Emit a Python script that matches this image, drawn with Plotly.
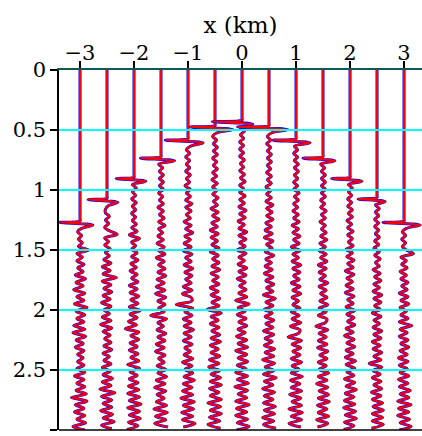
import plotly.graph_objects as go

# trace positions (km) and first-arrival times (s)
offsets = [-3.0, -2.5, -2.0, -1.5, -1.0, -0.5, 0.0, 0.5, 1.0, 1.5, 2.0, 2.5, 3.0]
arrival = [1.27, 1.08, 0.905, 0.735, 0.585, 0.475, 0.43, 0.475, 0.585, 0.735, 0.905, 1.075, 1.27]
# arrival wavelet lobes (km)
lobe_left = [-0.38, -0.35, -0.33, -0.38, -0.42, -0.46, -0.55, -0.58, -0.43, -0.37, -0.34, -0.35, -0.39]
lobe_right = [0.24, 0.2, 0.22, 0.25, 0.28, 0.33, 0.2, 0.35, 0.26, 0.22, 0.22, 0.15, 0.3]

# wiggle peak amplitudes after the arrival, in units of amp_unit km, every dt s
amp_unit = 0.0145
dt = 0.03
w_m30 = [2,-3,2,-2,3,-2,11,-4,3,-4,5,-3,4,-6,7,-5,4,-8,6,-4,5,-7,9,-5,6,-4,5,-8,6,-9,7,-5,4,-6,5,-3,4,-3,5,-4,6,-7,5,-4,6,-5,8,-11,9,-6,5,-7,6,-4,7,-9,6]
w_m25 = [2,-2,-2,3,-2,2,-3,3,13,-3,2,-3,4,-2,3,-4,5,-6,4,-5,12,-6,5,-4,6,-5,4,-7,5,-4,3,-6,5,-8,6,-5,4,-3,5,-4,6,-5,3,-4,5,-6,4,-5,7,-6,5,-9,10,-7,6,-5,6,-8,7,-5,9,-7,6]
w_m20 = [-2,3,-2,2,-3,3,-2,2,-3,2,-2,3,-3,4,-6,7,-3,2,-3,4,-3,5,-4,3,-5,4,-3,5,-6,4,-5,6,-4,5,-6,8,-5,4,-7,3,-11,6,-4,6,-5,4,-6,5,-4,6,-8,7,-5,4,-6,5,-7,6,-8,7,-6,9,-8,7,-6,8,-7,5,-9]
w_m15 = [-3,2,-2,3,-2,3,-2,3,-3,2,-2,3,-4,3,-2,4,-3,5,-3,2,-4,3,-5,4,-3,5,-6,4,-3,5,-4,6,-5,4,-6,5,-7,6,-4,5,-3,4,-13,7,-4,3,-5,6,-4,5,-6,4,-7,5,-3,4,-5,6,-4,7,-6,5,-8,6,-5,4,-6,7,-9,8,-7,6,-8,9]
w_m10 = [3,-2,2,-3,2,-2,2,-3,3,-2,2,-4,3,-2,3,-3,5,-3,4,-2,3,-5,4,-3,6,-4,3,-5,4,-6,5,-3,4,-5,6,-4,5,-3,4,-6,5,-7,4,5,-15,6,-4,5,-6,4,-5,7,-5,4,-6,5,-4,3,-5,6,-7,5,-4,6,-5,8,-6,5,-7,6,-9,8,-6,7,-8,6,-7,9,-6]
w_m05 = [2,-3,2,-2,3,-2,3,-3,2,-2,3,-3,2,-4,3,-3,2,-3,4,-2,3,-5,4,-3,5,-4,3,-6,4,-5,3,-4,5,-6,4,-3,5,-4,6,-5,4,-3,5,-6,4,-5,6,-4,5,-10,8,-5,4,-6,5,-4,6,-5,7,-6,4,-5,6,-7,5,-8,6,-5,7,-6,8,-7,5,-6,8,-9,7,-6,8,-7,6,-9,7]
w_p00 = [-2,3,-2,2,-3,2,-3,2,-3,3,-2,2,-3,3,-2,4,-3,2,-3,4,-3,3,-4,5,-3,4,-5,3,-4,6,-4,5,-3,4,-6,5,-4,3,-5,6,-4,5,-6,4,-3,5,-4,6,-8,9,-5,4,-6,5,-4,6,-5,4,-7,6,-5,7,-8,6,-5,7,-6,5,-8,7,-6,8,-9,7,-5,6,-8,9,-7,6,-8,7,-6,9,-7]
w_p05 = [3,-2,2,-3,2,-2,3,-2,3,-2,2,-3,3,-2,3,-4,2,-3,3,-4,5,-3,4,-3,5,-4,3,-5,4,-6,5,-3,4,-5,6,-4,3,-5,4,-6,5,-4,6,-3,5,-7,8,-4,5,-6,4,-5,6,-4,5,-7,6,-5,4,-6,7,-5,6,-8,7,-5,6,-7,9,-6,5,-8,7,-6,5,-7,8,-6,7,-8,6,-7,9]
w_p10 = [-2,2,-3,2,-2,3,-2,3,-2,2,-3,2,-3,4,-2,3,-3,2,-4,3,-3,4,-5,3,-4,5,-3,4,-6,5,-4,3,-5,6,-4,5,-3,4,-6,5,-4,6,-5,3,-4,5,-6,4,-5,6,-7,5,3,-10,7,-5,6,-4,5,-6,7,-5,4,-6,8,-7,5,-6,7,-8,6,-5,7,-9,8,-6,7,-9,6]
w_p15 = [-3,2,-2,3,-2,3,-2,3,-2,3,-3,2,-3,4,-2,3,-4,3,-2,4,-3,5,-4,3,-5,4,-3,5,-6,4,-5,3,-4,6,-5,4,-3,5,-4,6,-5,4,-6,5,3,-9,6,-5,4,-6,5,-7,6,-4,5,-6,4,-5,7,-6,5,-8,6,-5,7,-6,8,-7,5,-6,7,-8,6,-7]
w_p20 = [-2,3,-2,2,-3,2,-3,3,-2,3,-4,2,-3,4,-3,3,-2,4,-5,3,-4,5,-3,4,-6,5,-4,3,-5,4,-6,5,-3,4,-5,6,-4,5,-3,6,-5,4,-7,5,-4,6,-5,4,-6,7,-5,6,-4,5,-7,6,-5,8,-6,5,-7,6,-8,7,-6,8,-7,5,-8]
w_p25 = [-2,3,-2,2,-3,2,-3,2,-2,3,-3,2,-4,3,-3,4,-2,3,-5,4,-3,5,-4,3,-5,6,-4,5,-3,4,-6,5,-4,3,-5,6,-4,5,-6,4,-5,6,-4,5,-10,6,-5,4,-6,5,-4,6,-7,5,-6,7,-5,8,-6,7,-6,8,-7]
w_p30 = [3,-2,2,-3,2,-2,3,12,-4,3,-3,4,-5,3,-4,5,-3,4,-6,5,-4,6,-5,3,-4,5,-6,10,-5,4,-6,5,-4,6,-5,4,-7,5,-6,4,-5,6,-7,5,-6,8,-5,6,-8,9,-7,6,-8,7,-5,9,-6]
wiggles = [w_m30, w_m25, w_m20, w_m15, w_m10, w_m05, w_p00, w_p05, w_p10, w_p15, w_p20, w_p25, w_p30]

grid_times = [0.5, 1.0, 1.5, 2.0, 2.5]
y_ticks = [0, 0.5, 1, 1.5, 2, 2.5, 3]
y_labels = ["0", "0.5", "1", "1.5", "2", "2.5", "3"]
x_ticks = [-3, -2, -1, 0, 1, 2, 3]

fig = go.Figure()
for off, ta, a1, a2, w in zip(offsets, arrival, lobe_left, lobe_right, wiggles):
    ts = [0.0, ta - 0.03, ta - 0.012, ta, ta + 0.022]
    xs = [off, off, off, off + a1, off + a2]
    for k, v in enumerate(w):
        ts.append(ta + 0.05 + k * dt)
        xs.append(off + v * amp_unit)
    for col, wd in (("#0000ff", 3.0), ("#ff0000", 2.0)):
        fig.add_trace(go.Scatter(x=xs, y=ts, mode="lines",
                                 line=dict(color=col, width=wd, shape="spline", smoothing=1.0),
                                 hoverinfo="skip", showlegend=False))

for g in grid_times:
    fig.add_shape(type="line", xref="paper", yref="y", x0=0, x1=1, y0=g, y1=g,
                  line=dict(color="#00ffff", width=2), layer="above")
fig.add_shape(type="line", xref="paper", yref="paper", x0=0, x1=1, y0=0, y1=0,
              line=dict(color="black", width=1.5), layer="above")

font = dict(family="DejaVu Serif", size=21, color="black")
title_font = dict(family="DejaVu Serif", size=23, color="black")
fig.update_layout(
    width=422, height=436,
    margin=dict(l=59, r=0, t=70, b=6),
    plot_bgcolor="white", paper_bgcolor="white",
    font=font,
    xaxis=dict(side="top", range=[-3.389, 3.333], tickvals=x_ticks,
               ticks="outside", ticklen=7, tickcolor="black", tickwidth=1.5,
               showline=True, linecolor="#0c5a56", linewidth=2,
               showgrid=False, zeroline=False, tickfont=font,
               ticklabelstandoff=-7, automargin=False,
               title=dict(text="x (km)", font=title_font, standoff=1)),
    yaxis=dict(range=[3, 0], tickvals=y_ticks, ticktext=y_labels,
               ticks="outside", ticklen=7, tickcolor="black", tickwidth=1.5,
               showline=True, linecolor="black", linewidth=1.5,
               showgrid=False, zeroline=False, tickfont=font,
               ticklabelstandoff=0, automargin=False),
)
fig.write_html("out.html", config={"displayModeBar": False},
               post_script="document.body.style.margin='0';document.body.style.overflow='hidden';")
